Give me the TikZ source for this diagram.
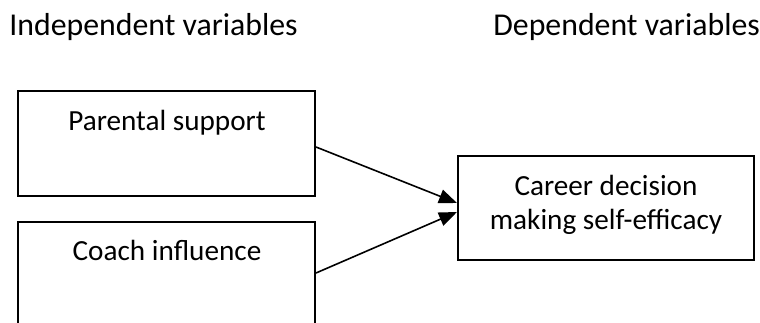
\documentclass[tikz,border=0pt]{standalone}
\usepackage{fontspec}
\setmainfont{Carlito}
\usetikzlibrary{calc,arrows.meta}
\begin{document}
\begin{tikzpicture}[x=0.5pt,y=-0.5pt,
  box/.style={draw=black,line width=1pt,rectangle,inner sep=0pt},
  lbl/.style={font=\fontsize{14.6}{17}\selectfont,anchor=base,inner sep=0pt},
  head/.style={font=\fontsize{15.9}{19}\selectfont,anchor=base west,inner sep=0pt},
  arr/.style={line width=0.8pt,-{Triangle[length=9pt,width=7pt]}}]
\useasboundingbox (0,0) rectangle (760,322);
\clip (0,0) rectangle (760,322);
\node[head] (iv) at (9,35) {Independent variables};
\node[head] (dv) at (493,35) {Dependent variables};
\node[box,minimum width=148.5pt,minimum height=52.5pt] (p) at (166.5,143.5) {};
\node[box,minimum width=148.5pt,minimum height=51pt] (c) at (166.5,273) {};
\node[box,minimum width=148pt,minimum height=52pt] (r) at (606,208) {};
\node[lbl] (pt) at (167,130) {Parental support};
\node[lbl] (ct) at (167,260) {Coach influence};
\node[lbl] (rt1) at (606,195) {Career decision};
\node[lbl] (rt2) at (606,229) {making self-efficacy};
\draw[arr] ($(p.east)+(0,3.5)$) -- ($(r.west)+(0,-5)$);
\draw[arr] (c.east) -- ($(r.west)+(0,4)$);
\end{tikzpicture}
\end{document}
